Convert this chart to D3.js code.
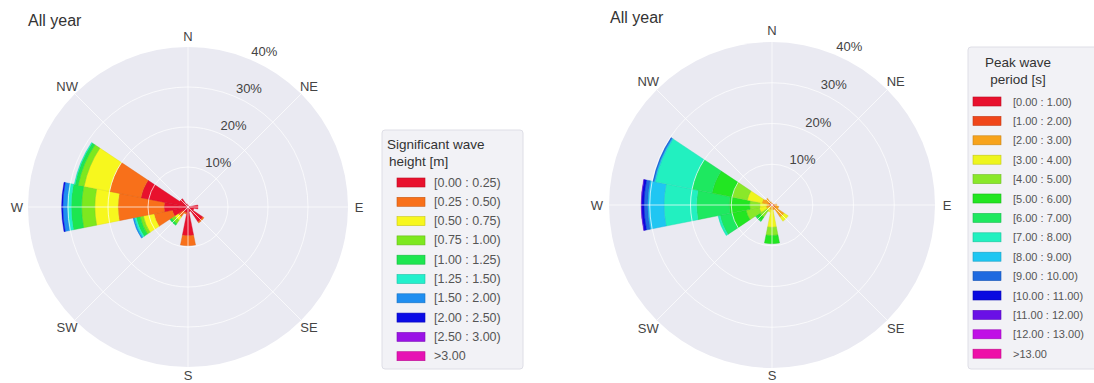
<!DOCTYPE html>
<html>
<head>
<meta charset="utf-8">
<script src="https://cdn.jsdelivr.net/npm/d3@7"></script>
<style>
  body { margin: 0; background: #fff; }
  svg { display: block; font-family: "Liberation Sans", Arial, sans-serif; }
</style>
</head>
<body>
<script>
// 16 sectors, clockwise from north
const directions = ['N', 'NNE', 'NE', 'ENE', 'E', 'ESE', 'SE', 'SSE', 'S', 'SSW', 'SW', 'WSW', 'W', 'WNW', 'NW', 'NNW'];
const compassLabels = ['N', 'NE', 'E', 'SE', 'S', 'SW', 'W', 'NW'];
const radialTicks = [10, 20, 30, 40];

const heightBins = ['[0.00 : 0.25)', '[0.25 : 0.50)', '[0.50 : 0.75)', '[0.75 : 1.00)', '[1.00 : 1.25)',
  '[1.25 : 1.50)', '[1.50 : 2.00)', '[2.00 : 2.50)', '[2.50 : 3.00)', '>3.00'];
const heightColors = ['#e8112d', '#f8701a', '#f7f71e', '#7de81f', '#1de650',
  '#22f0cc', '#1f8ef0', '#0b0be6', '#9a12e6', '#e612b4'];

const periodBins = ['[0.00 : 1.00)', '[1.00 : 2.00)', '[2.00 : 3.00)', '[3.00 : 4.00)', '[4.00 : 5.00)',
  '[5.00 : 6.00)', '[6.00 : 7.00)', '[7.00 : 8.00)', '[8.00 : 9.00)', '[9.00 : 10.00)',
  '[10.00 : 11.00)', '[11.00 : 12.00)', '[12.00 : 13.00)', '>13.00'];
const periodColors = ['#e8112d', '#f0461a', '#f7a31c', '#eef51e', '#8ae82a', '#22e622', '#1ee860',
  '#22f0c0', '#1fc6f2', '#1f6ae0', '#0a0ae0', '#6a10e6', '#c010e6', '#ee10a8'];

// frequency (%) per direction, one value per bin
const heightFreq = [
  [0.5],
  [0.3],
  [0.3],
  [0.4],
  [2.5],
  [1.5],
  [4.5, 0.3],
  [1.2],
  [7.2, 2.5],
  [1.5, 0.3],
  [1.5, 1.5, 1.0, 1.0, 0.5],
  [4.0, 4.7, 2.7, 0.8, 1.0, 0.5, 0.3],
  [6.0, 11.5, 5.8, 3.3, 2.6, 1.0, 1.1, 0.3],
  [12.0, 8.0, 6.5, 1.5, 0.8, 0.2],
  [2.5],
  [0.8]
];

const periodFreq = [
  [0.1, 0.2, 0.2],
  [0.1, 0.2],
  [0.1, 0.2],
  [0.1, 0.2, 0.2],
  [0.2, 0.4, 0.6],
  [0.2, 0.5, 1.0],
  [0.3, 0.8, 2.5, 1.2],
  [0.1, 0.3, 0.8],
  [0.0, 0.2, 1.0, 4.3, 2.0, 2.0],
  [0.1, 0.3, 0.8, 0.6],
  [0.0, 0.1, 0.3, 1.2, 2.0, 1.0, 0.3],
  [0.3, 0.4, 0.8, 1.7, 3.3, 3.5, 3.0, 0.5],
  [0.3, 0.4, 0.6, 1.7, 2.5, 5.0, 8.0, 8.0, 4.0, 0.9, 0.6, 0.1],
  [0.3, 0.5, 1.7, 3.7, 3.8, 5.0, 5.0, 9.2, 0.3, 0.3],
  [0.2, 0.6, 1.2],
  [0.1, 0.3, 0.4]
];

const svg = d3.select('body').append('svg')
  .attr('width', 1094)
  .attr('height', 383);

function drawRose(cx, cy, R, labelPad, freq, colors) {
  const g = svg.append('g').attr('transform', 'translate(' + cx + ',' + cy + ')');
  const r = d3.scaleLinear().domain([0, 40]).range([0, R]);
  const step = 2 * Math.PI / directions.length;
  const ang = d3.scalePoint().domain(directions).range([0, 2 * Math.PI - step]);

  g.append('circle').attr('r', R).attr('fill', '#eaeaf2');

  // stacked segments
  const segs = [];
  directions.forEach(function (d, i) {
    let c = 0;
    freq[i].forEach(function (v, k) {
      if (v > 0) segs.push({dir: d, k: k, r0: c, r1: c + v});
      c += v;
    });
  });
  const arc = d3.arc()
    .innerRadius(function (s) { return r(s.r0); })
    .outerRadius(function (s) { return r(s.r1); })
    .startAngle(function (s) { return ang(s.dir) - step / 2; })
    .endAngle(function (s) { return ang(s.dir) + step / 2; });
  g.selectAll('path.seg')
    .data(segs)
    .enter().append('path')
    .attr('class', 'seg')
    .attr('d', arc)
    .attr('fill', function (s) { return colors[s.k]; })
    .attr('stroke', function (s) { return d3.color(colors[s.k]).darker(0.3); })
    .attr('stroke-width', 0.4);

  // grid on top, as in the picture
  g.selectAll('circle.grid')
    .data(radialTicks.slice(0, -1))
    .enter().append('circle')
    .attr('r', function (t) { return r(t); })
    .attr('fill', 'none')
    .attr('stroke', '#fff')
    .attr('stroke-opacity', 0.7)
    .attr('stroke-width', 1);
  g.selectAll('line.spoke')
    .data(compassLabels)
    .enter().append('line')
    .attr('x1', 0).attr('y1', 0)
    .attr('x2', function (d, i) { return R * Math.sin(i * Math.PI / 4); })
    .attr('y2', function (d, i) { return -R * Math.cos(i * Math.PI / 4); })
    .attr('stroke', '#fff')
    .attr('stroke-opacity', 0.7)
    .attr('stroke-width', 1);

  // compass labels (S kept inside the page)
  g.selectAll('text.dir')
    .data(compassLabels)
    .enter().append('text')
    .attr('x', function (d, i) { return (R + labelPad) * Math.sin(i * Math.PI / 4); })
    .attr('y', function (d, i) {
      const y = -(R + labelPad) * Math.cos(i * Math.PI / 4) + 4.5;
      return Math.min(y, 380 - cy);
    })
    .attr('text-anchor', 'middle')
    .attr('font-size', 13)
    .attr('fill', '#444')
    .text(function (d) { return d; });

  // radial tick labels along 22.5 deg
  const a = Math.PI / 8;
  g.selectAll('text.rt')
    .data(radialTicks)
    .enter().append('text')
    .attr('x', function (t) { return r(t) * Math.sin(a) + 15; })
    .attr('y', function (t) { return -r(t) * Math.cos(a) - 7.5 + 4.5; })
    .attr('text-anchor', 'middle')
    .attr('font-size', 13)
    .attr('fill', '#444')
    .text(function (t) { return t + '%'; });
}

function drawLegend(box, title, titleX, titleAnchor, titleY, titleSize, bins, colors, rowY, rowStep, patchX, textX, textSize) {
  const g = svg.append('g');
  g.append('rect')
    .attr('x', box[0]).attr('y', box[1])
    .attr('width', box[2]).attr('height', box[3])
    .attr('rx', 3)
    .attr('fill', '#f2f2f6')
    .attr('stroke', '#dedee6');
  g.selectAll('text.title')
    .data(title)
    .enter().append('text')
    .attr('x', function (d, i) { return titleX[i]; })
    .attr('y', function (d, i) { return titleY + i * 17; })
    .attr('text-anchor', titleAnchor)
    .attr('font-size', titleSize)
    .attr('fill', '#333')
    .text(function (d) { return d; });
  const rows = g.selectAll('g.row')
    .data(bins)
    .enter().append('g')
    .attr('transform', function (d, i) { return 'translate(0,' + (rowY + i * rowStep) + ')'; });
  rows.append('rect')
    .attr('x', patchX).attr('y', -4.5)
    .attr('width', 28).attr('height', 9)
    .attr('fill', function (d, i) { return colors[i]; })
    .attr('stroke', function (d, i) { return d3.color(colors[i]).darker(0.6); })
    .attr('stroke-width', 0.6);
  rows.append('text')
    .attr('x', textX).attr('y', 4)
    .attr('font-size', textSize)
    .attr('fill', '#555')
    .text(function (d) { return d; });
}

svg.append('text').attr('x', 28).attr('y', 26).attr('font-size', 16).attr('fill', '#333').text('All year');
svg.append('text').attr('x', 610).attr('y', 23).attr('font-size', 16).attr('fill', '#333').text('All year');

drawRose(188, 207, 160, 11, heightFreq, heightColors);
drawRose(772, 205, 163, 12, periodFreq, periodColors);

drawLegend([382, 130, 141, 239], ['Significant wave', 'height [m]'], [387, 389], 'start', 149, 13.5,
  heightBins, heightColors, 182.5, 19.3, 397, 434, 12.5);
drawLegend([968, 47, 140, 322], ['Peak wave', 'period [s]'], [1018, 1018], 'middle', 67, 13.5,
  periodBins, periodColors, 101.5, 19.4, 973, 1013, 11);
</script>
</body>
</html>
